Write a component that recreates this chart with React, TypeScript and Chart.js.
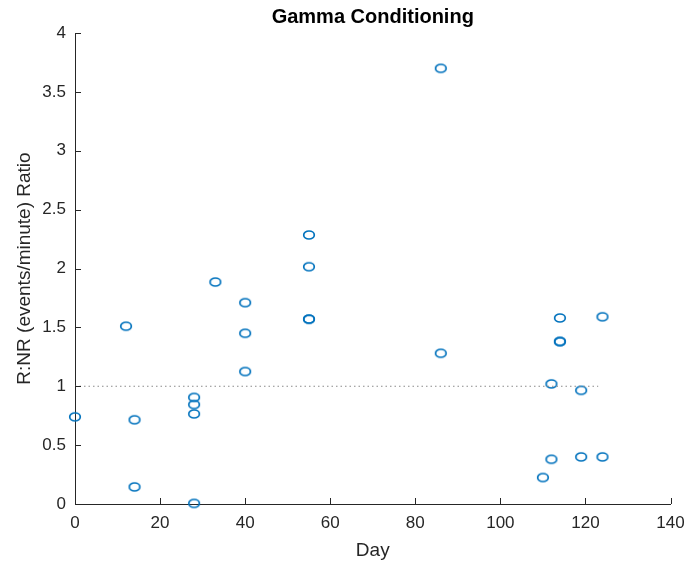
import React, { useEffect, useRef } from 'react';
import { Chart, registerables } from 'chart.js';

Chart.register(...registerables);

// ---- data ----
const chartTitle = 'Gamma Conditioning';
const days = [0, 12, 14, 14, 28, 28, 28, 28, 33, 40, 40, 40, 55, 55, 55, 55, 86, 86, 110, 112, 112, 114, 114, 114, 119, 119, 124, 124];
const ratios = [0.74, 1.51, 0.715, 0.145, 0.905, 0.845, 0.765, 0.005, 1.885, 1.71, 1.45, 1.125, 2.285, 2.015, 1.57, 1.57, 3.7, 1.28, 0.225, 0.38, 1.02, 1.58, 1.38, 1.38, 0.965, 0.4, 1.59, 0.4];
const refLineDays = [0, 123];
const refLineRatios = [1, 1];
const xTickValues = [0, 20, 40, 60, 80, 100, 120, 140];
const yTickValues = [0, 0.5, 1, 1.5, 2, 2.5, 3, 3.5, 4];
const yTickLabels = ['0', '0.5', '1', '1.5', '2', '2.5', '3', '3.5', '4'];

const FONT = '"Liberation Sans", Arial, Helvetica, sans-serif';
const AXIS_COLOR = '#262626';
const MARKER_COLOR = '#0072BD';

function makeMarker(): HTMLCanvasElement {
  const c = document.createElement('canvas');
  c.width = 14;
  c.height = 12;
  const g = c.getContext('2d')!;
  g.strokeStyle = MARKER_COLOR;
  g.lineWidth = 1.7;
  g.beginPath();
  g.ellipse(7, 6, 5.3, 4, 0, 0, Math.PI * 2);
  g.stroke();
  return c;
}

const inwardTicks = {
  id: 'inwardTicks',
  afterDraw(chart: any) {
    const { ctx, chartArea, scales } = chart;
    const len = 6;
    ctx.save();
    ctx.strokeStyle = AXIS_COLOR;
    ctx.lineWidth = 1;
    ctx.beginPath();
    scales.x.ticks.forEach((t: any) => {
      const px = Math.round(scales.x.getPixelForValue(t.value)) + 0.5;
      ctx.moveTo(px, chartArea.bottom);
      ctx.lineTo(px, chartArea.bottom - len);
    });
    scales.y.ticks.forEach((t: any) => {
      const py = Math.round(scales.y.getPixelForValue(t.value)) + 0.5;
      ctx.moveTo(chartArea.left, py);
      ctx.lineTo(chartArea.left + len, py);
    });
    ctx.stroke();
    // title centred over the plot area
    ctx.fillStyle = '#000000';
    ctx.font = `bold 20px ${FONT}`;
    ctx.textAlign = 'center';
    ctx.textBaseline = 'middle';
    ctx.fillText(chartTitle, (chartArea.left + chartArea.right) / 2, 17);
    ctx.restore();
  },
};

export default function App() {
  const ref = useRef<HTMLCanvasElement | null>(null);

  useEffect(() => {
    if (!ref.current) return;
    const marker = makeMarker();
    const chart = new Chart(ref.current, {
      type: 'scatter',
      data: {
        datasets: [
          {
            type: 'line',
            data: refLineDays.map((d, i) => ({ x: d, y: refLineRatios[i] })),
            borderColor: '#8a8a8a',
            borderWidth: 1,
            borderDash: [1.5, 3],
            pointRadius: 0,
            fill: false,
            showLine: true,
          } as any,
          {
            type: 'scatter',
            data: days.map((d, i) => ({ x: d, y: ratios[i] })),
            pointStyle: marker as any,
            pointRadius: 5,
            clip: false as any,
          } as any,
        ],
      },
      options: {
        animation: false,
        responsive: false,
        devicePixelRatio: 1,
        layout: { padding: { left: 0, right: 0, top: 33, bottom: 0 } },
        plugins: {
          legend: { display: false },
          tooltip: { enabled: false },
          title: { display: false },
        },
        scales: {
          x: {
            type: 'linear',
            min: 0,
            max: 140,
            afterBuildTicks: (s: any) => {
              s.ticks = xTickValues.map((v) => ({ value: v }));
            },
            afterFit: (s: any) => {
              s.height = 61;
              s.paddingRight = 13.5;
              s.paddingLeft = 0;
            },
            ticks: {
              color: AXIS_COLOR,
              font: { family: FONT, size: 17 },
              padding: 9,
              maxRotation: 0,
              callback: (v: any) => String(v),
            },
            grid: { drawOnChartArea: false, drawTicks: false },
            border: { display: true, color: AXIS_COLOR, width: 1 },
            title: {
              display: true,
              text: 'Day',
              color: AXIS_COLOR,
              font: { family: FONT, size: 19 },
              padding: { top: 0, bottom: 3 },
            },
          },
          y: {
            type: 'linear',
            min: 0,
            max: 4,
            afterBuildTicks: (s: any) => {
              s.ticks = yTickValues.map((v) => ({ value: v }));
            },
            afterFit: (s: any) => {
              s.width = 75;
              s.paddingTop = 0;
              s.paddingBottom = 0;
            },
            ticks: {
              color: AXIS_COLOR,
              font: { family: FONT, size: 17 },
              padding: 9,
              callback: (v: any) => {
                const i = yTickValues.indexOf(Number(v));
                return i >= 0 ? yTickLabels[i] : String(v);
              },
            },
            grid: { drawOnChartArea: false, drawTicks: false },
            border: { display: true, color: AXIS_COLOR, width: 1 },
            title: {
              display: true,
              text: 'R:NR (events/minute) Ratio',
              color: AXIS_COLOR,
              font: { family: FONT, size: 19 },
              padding: { top: 13, bottom: 0 },
            },
          },
        },
      },
      plugins: [inwardTicks],
    });
    return () => chart.destroy();
  }, []);

  return (
    <div style={{ position: 'fixed', left: 0, top: 0, width: 684, height: 565, background: '#fff' }}>
      <canvas ref={ref} width={684} height={565} style={{ display: 'block' }} />
    </div>
  );
}
